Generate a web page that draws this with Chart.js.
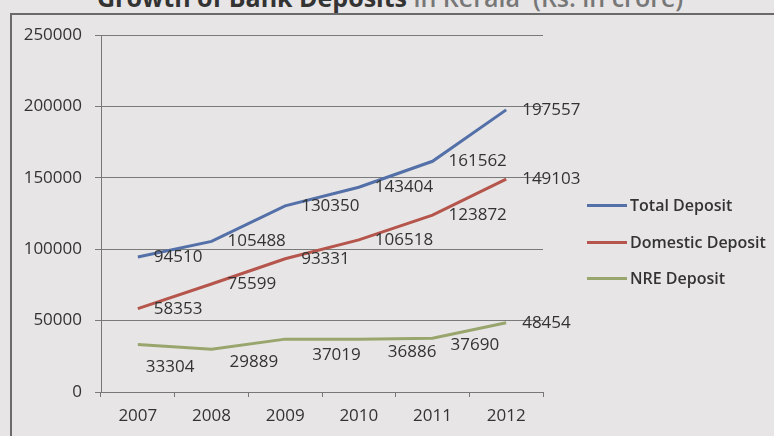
<!DOCTYPE html>
<html>
<head>
<meta charset="utf-8">
<script src="https://cdn.jsdelivr.net/npm/chart.js@4"></script>
<style>
  html, body { margin: 0; padding: 0; background: #e7e5e6; overflow: hidden; }
  #wrap { position: relative; width: 774px; height: 436px; }
  #frame { position: absolute; left: 10px; top: 13px; right: 0; bottom: 0;
           border-left: 2px solid #6a6a6a; border-top: 2px solid #6a6a6a; }
  #title { position: absolute; left: 97px; top: -20px; white-space: nowrap;
           font: bold 25px "Open Sans", sans-serif; color: #333; }
  #title span { font-weight: 600; color: #777; }
  canvas { position: absolute; left: 0; top: 0; }
  #legend { position: absolute; left: 587px; top: 193px; }
  .item { height: 36.5px; display: flex; align-items: flex-start; }
  .item i { display: inline-block; width: 40px; height: 3px; margin-top: 11px; }
  .item b { font: 600 16px "Open Sans", sans-serif; color: #333; margin-left: 3px; line-height: 24px; }
</style>
</head>
<body>
<div id="wrap">
  <div id="frame"></div>
  <div id="title">Growth of Bank Deposits <span>in Kerala &nbsp;(Rs. in crore)</span></div>
  <canvas id="chart" width="774" height="436"></canvas>
  <div id="legend"></div>
</div>
<script>
// years on the x axis
const years = ['2007', '2008', '2009', '2010', '2011', '2012'];

// deposits, Rs. crore
const totalDeposit = [94510, 105488, 130350, 143404, 161562, 197557];
const domesticDeposit = [58353, 75599, 93331, 106518, 123872, 149103];
const nreDeposit = [33304, 29889, 37019, 36886, 37690, 48454];

const yTicks = [0, 50000, 100000, 150000, 200000, 250000];

// label nudges (px) for the NRE labels, which sit below the line
const nreShiftX = [-8, 2, 11, 13, 2, 0];
const nreShiftY = [23, 13, 16, 13, 7, 0];

const font = { family: '"Open Sans", sans-serif', size: 17 };

const valueLabels = {
    id: 'valueLabels',
    afterDatasetsDraw(chart) {
        const ctx = chart.ctx;
        ctx.save();
        ctx.font = `${font.size}px ${font.family}`;
        ctx.fillStyle = '#333';
        ctx.textAlign = 'left';
        ctx.textBaseline = 'middle';
        chart.data.datasets.forEach((ds, di) => {
            chart.getDatasetMeta(di).data.forEach((pt, i) => {
                let dx = 16, dy = 0;
                if (di === 2) { dx += nreShiftX[i]; dy += nreShiftY[i]; }
                ctx.fillText(String(ds.data[i]), pt.x + dx, pt.y + dy);
            });
        });
        ctx.restore();
    }
};

const chart = new Chart(document.getElementById('chart'), {
    type: 'line',
    data: {
        labels: years,
        datasets: [
            { label: 'Total Deposit', data: totalDeposit, borderColor: '#5470a8' },
            { label: 'Domestic Deposit', data: domesticDeposit, borderColor: '#b5554c' },
            { label: 'NRE Deposit', data: nreDeposit, borderColor: '#98a66e' }
        ]
    },
    options: {
        responsive: false,
        animation: false,
        layout: { padding: { top: 35, right: 231, left: 0, bottom: 0 } },
        elements: {
            line: { borderWidth: 3, tension: 0 },
            point: { radius: 0 }
        },
        plugins: { legend: { display: false }, tooltip: { enabled: false } },
        scales: {
            x: {
                offset: true,
                grid: { offset: true, drawOnChartArea: false, tickLength: 5, color: '#777' },
                border: { color: '#777', width: 1 },
                ticks: { color: '#333', font: font, padding: 9 },
                afterFit(s) { s.height = 44; }
            },
            y: {
                min: 0,
                max: 250000,
                afterBuildTicks(s) { s.ticks = yTicks.map(v => ({ value: v })); },
                grid: { color: '#7a7a7a', tickLength: 6 },
                border: { color: '#777', width: 1 },
                ticks: { color: '#333', font: font, padding: 13, callback: v => String(v) },
                afterFit(s) { s.width = 101; }
            }
        }
    },
    plugins: [valueLabels]
});

// legend as html, taken from the chart's datasets
document.getElementById('legend').innerHTML = chart.data.datasets.map(d =>
    `<div class="item"><i style="background:${d.borderColor}"></i><b>${d.label}</b></div>`
).join('');
</script>
</body>
</html>
